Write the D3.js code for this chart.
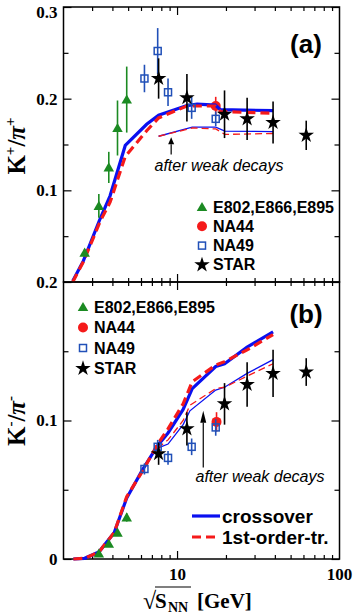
<!DOCTYPE html>
<html>
<head>
<meta charset="utf-8">
<script src="https://cdn.jsdelivr.net/npm/d3@7/dist/d3.min.js"></script>
<style>
  body { margin: 0; background: #fff; }
  svg { display: block; }
</style>
</head>
<body>
<script>
// [sqrt(s_NN) GeV, ratio, error]
const kpE802 = [[2.7, 0.032, 0.004], [3.3, 0.083, 0.013], [3.8, 0.125, 0.017], [4.3, 0.168, 0.030], [4.9, 0.199, 0.036]];
const kpNA44 = [[17.3, 0.192, 0.010]];
const kpNA49 = [[6.3, 0.222, 0.015], [7.6, 0.252, 0.025], [8.8, 0.207, 0.015], [12.3, 0.190, 0.012], [17.3, 0.178, 0.008]];
const kpSTAR = [[7.7, 0.222, 0.022], [11.5, 0.201, 0.026], [19.6, 0.183, 0.026], [27, 0.178, 0.023], [39, 0.174, 0.023], [62.4, 0.160, 0.016]];

const kmE802 = [[3.3, 0.004, 0.001], [3.8, 0.011, 0.001], [4.3, 0.019, 0.002], [4.9, 0.030, 0.003]];
const kmNA44 = [[17.5, 0.099, 0.007]];
const kmNA49 = [[6.3, 0.065, 0.004], [7.6, 0.081, 0.005], [8.8, 0.073, 0.005], [12.3, 0.081, 0.006], [17.3, 0.095, 0.006]];
const kmSTAR = [[7.7, 0.076, 0.008], [11.5, 0.094, 0.012], [19.6, 0.112, 0.015], [27, 0.126, 0.016], [39, 0.134, 0.017], [62.4, 0.135, 0.010]];

// model curves
const kpCross = [[2.28, 0.001], [2.65, 0.023], [3.36, 0.069], [3.87, 0.094], [4.8, 0.149], [6.5, 0.172], [7.7, 0.182], [11.5, 0.1925], [13.3, 0.194], [17.2, 0.193], [18.5, 0.188], [39, 0.187]];
const kpFirst = [[2.28, 0.0], [2.65, 0.022], [3.36, 0.066], [3.87, 0.087], [4.8, 0.137], [6.5, 0.165], [7.7, 0.179], [11.5, 0.192], [13.3, 0.192], [17.2, 0.192], [18.5, 0.186], [39, 0.184]];
const kpCrossWeak = [[7.7, 0.159], [12.4, 0.169], [17.3, 0.169], [19.7, 0.1646], [39, 0.164]];
const kpFirstWeak = [[7.7, 0.159], [12.4, 0.168], [17.3, 0.167], [19.7, 0.161], [39, 0.162]];

const kmCross = [[2.3, 0], [2.7, 0.0005], [3.3, 0.005], [4.1, 0.019], [4.9, 0.044], [6.1, 0.064], [7.6, 0.082], [8.8, 0.091], [10.9, 0.108], [12.4, 0.123], [17.3, 0.139], [19.6, 0.141], [27, 0.153], [39, 0.164]];
const kmFirst = [[2.3, 0], [2.7, 0.0005], [3.3, 0.005], [4.1, 0.019], [4.9, 0.045], [6.1, 0.063], [7.6, 0.083], [8.8, 0.094], [10.9, 0.112], [12.4, 0.128], [17.3, 0.140], [19.6, 0.1425], [27, 0.151], [39, 0.162]];
const kmCrossWeak = [[7.6, 0.080], [8.8, 0.083], [10.9, 0.097], [12.0, 0.107], [17.3, 0.122], [19.6, 0.124], [27, 0.134], [39, 0.144]];
const kmFirstWeak = [[7.6, 0.080], [8.8, 0.086], [10.9, 0.100], [12.0, 0.111], [17.3, 0.123], [19.6, 0.124], [27, 0.132], [39, 0.141]];

const xMajor = [10, 100];
const xMinor = [3, 4, 5, 6, 7, 8, 9, 20, 30, 40, 50, 60, 70, 80, 90];
const legendNames = ['E802,E866,E895', 'NA44', 'NA49', 'STAR'];

const width = 354, height = 614;
const blue = '#0a10f0', red = '#f51a1a', green = '#1b8a22', sqBlue = '#2150b8';
const serif = '"Liberation Serif", "DejaVu Serif", serif';
const sans = '"Liberation Sans", Arial, sans-serif';

const svg = d3.select('body').append('svg')
  .attr('width', width)
  .attr('height', height);

const x = d3.scaleLog().domain([2, 100]).range([63.5, 339.5]);

const panels = [
  { y: d3.scaleLinear().domain([0, 0.3]).range([282, 7]), major: [0.1, 0.2, 0.3], minor: [0.05, 0.15, 0.25],
    e802: kpE802, na44: kpNA44, na49: kpNA49, star: kpSTAR,
    lines: [kpCross, kpFirst, kpCrossWeak, kpFirstWeak], xLabels: false },
  { y: d3.scaleLinear().domain([0, 0.2]).range([559, 282]), major: [0, 0.1, 0.2], minor: [0.05, 0.15],
    e802: kmE802, na44: kmNA44, na49: kmNA49, star: kmSTAR,
    lines: [kmCross, kmFirst, kmCrossWeak, kmFirstWeak], xLabels: true }
];

const fmt = v => v === 0 ? '0' : d3.format('.1f')(v);

const styleAxis = g => {
  g.select('.domain').remove();
  g.selectAll('line').attr('stroke', '#000').attr('stroke-width', 1.2);
  g.selectAll('text').attr('font-family', serif).attr('font-weight', 'bold').attr('font-size', 17).attr('fill', '#000');
};

const drawMarker = (g, kind, cx, cy) => {
  if (kind === 'tri') {
    g.append('path').attr('d', d3.symbol(d3.symbolTriangle, 48)())
      .attr('transform', `translate(${cx},${cy + 1})`).attr('fill', green);
  } else if (kind === 'circ') {
    g.append('circle').attr('cx', cx).attr('cy', cy).attr('r', 5).attr('fill', red);
  } else if (kind === 'sq') {
    g.append('rect').attr('x', cx - 3.5).attr('y', cy - 3.5).attr('width', 7).attr('height', 7)
      .attr('fill', 'none').attr('stroke', sqBlue).attr('stroke-width', 1.5);
  } else {
    g.append('path').attr('d', d3.symbol(d3.symbolStar, 75)())
      .attr('transform', `translate(${cx},${cy})`).attr('fill', '#000');
  }
};

const drawSeries = (g, y, data, kind, color) => {
  g.selectAll(null).data(data).enter().append('line')
    .attr('x1', d => x(d[0])).attr('x2', d => x(d[0]))
    .attr('y1', d => y(d[1] - d[2])).attr('y2', d => y(d[1] + d[2]))
    .attr('stroke', color).attr('stroke-width', 1.6);
  data.forEach(d => drawMarker(g, kind, x(d[0]), y(d[1])));
};

panels.forEach(p => {
  const y = p.y;
  const [bottom, top] = y.range();
  const g = svg.append('g');

  // inward ticks on all four sides
  g.append('g').attr('transform', `translate(0,${bottom})`)
    .call(d3.axisBottom(x).tickValues(xMajor.slice(0, 1)).tickSize(-8).tickPadding(9)
      .tickFormat(p.xLabels ? d3.format('d') : () => ''))
    .call(styleAxis);
  g.append('g').attr('transform', `translate(0,${bottom})`)
    .call(d3.axisBottom(x).tickValues(xMinor).tickSize(-4).tickFormat(() => '')).call(styleAxis);
  g.append('g').attr('transform', `translate(0,${top})`)
    .call(d3.axisTop(x).tickValues(xMajor.slice(0, 1)).tickSize(-8).tickFormat(() => '')).call(styleAxis);
  g.append('g').attr('transform', `translate(0,${top})`)
    .call(d3.axisTop(x).tickValues(xMinor).tickSize(-4).tickFormat(() => '')).call(styleAxis);
  if (p.xLabels) {
    g.append('text').attr('x', x(100)).attr('y', bottom + 21).attr('text-anchor', 'middle')
      .attr('font-family', serif).attr('font-weight', 'bold').attr('font-size', 17).text('100');
  }

  g.append('g').attr('transform', `translate(${x.range()[0]},0)`)
    .call(d3.axisLeft(y).tickValues(p.major).tickSize(-8).tickPadding(6).tickFormat(fmt)).call(styleAxis)
    .selectAll('text').filter(d => d === 0.3).attr('dy', '0.6em');
  g.append('g').attr('transform', `translate(${x.range()[0]},0)`)
    .call(d3.axisLeft(y).tickValues(p.minor).tickSize(-5).tickFormat(() => '')).call(styleAxis);
  g.append('g').attr('transform', `translate(${x.range()[1]},0)`)
    .call(d3.axisRight(y).tickValues(p.major).tickSize(-8).tickFormat(() => '')).call(styleAxis);
  g.append('g').attr('transform', `translate(${x.range()[1]},0)`)
    .call(d3.axisRight(y).tickValues(p.minor).tickSize(-5).tickFormat(() => '')).call(styleAxis);

  g.append('rect').attr('x', x.range()[0]).attr('y', top)
    .attr('width', x.range()[1] - x.range()[0]).attr('height', bottom - top)
    .attr('fill', 'none').attr('stroke', '#000').attr('stroke-width', 1.5);

  drawSeries(g, y, p.na44, 'circ', red);

  const line = d3.line().x(d => x(d[0])).y(d => y(d[1]));
  const styles = [
    { c: blue, w: 3.2, dash: null },
    { c: red, w: 3.2, dash: '9,5' },
    { c: blue, w: 1.3, dash: null },
    { c: red, w: 1.3, dash: '7,4' }
  ];
  p.lines.forEach((l, i) => {
    g.append('path').datum(l).attr('d', line)
      .attr('fill', 'none').attr('stroke', styles[i].c).attr('stroke-width', styles[i].w)
      .attr('stroke-dasharray', styles[i].dash);
  });

  drawSeries(g, y, p.e802, 'tri', green);
  drawSeries(g, y, p.na49, 'sq', sqBlue);
  drawSeries(g, y, p.star, 'star', '#000');
});

// legends
const drawLegend = (lx, ly, step) => {
  const kinds = ['tri', 'circ', 'sq', 'star'];
  legendNames.forEach((name, i) => {
    drawMarker(svg, kinds[i], lx, ly + i * step);
    svg.append('text').attr('x', lx + 11).attr('y', ly + i * step + 5.5)
      .attr('font-family', sans).attr('font-weight', 'bold').attr('font-size', 16).text(name);
  });
};
drawLegend(202, 207, 19.3);
drawLegend(83, 307, 20.5);

// line legend
[['crossover', blue, null, 516], ['1st-order-tr.', red, '9,5', 537]].forEach(([t, c, dash, ly]) => {
  svg.append('line').attr('x1', 192).attr('x2', 220).attr('y1', ly).attr('y2', ly)
    .attr('stroke', c).attr('stroke-width', 3.2).attr('stroke-dasharray', dash);
  svg.append('text').attr('x', 222).attr('y', ly + 7)
    .attr('font-family', sans).attr('font-weight', 'bold').attr('font-size', 19).text(t);
});

// panel tags
[['(a)', 53], ['(b)', 323]].forEach(([t, ty]) => {
  svg.append('text').attr('x', 306).attr('y', ty).attr('text-anchor', 'middle')
    .attr('font-family', sans).attr('font-weight', 'bold').attr('font-size', 26).text(t);
});

// after weak decays annotations
const arrow = (ax, y0, y1, head) => {
  svg.append('line').attr('x1', ax).attr('x2', ax).attr('y1', y0).attr('y2', y1 + head)
    .attr('stroke', '#000').attr('stroke-width', 1.2);
  svg.append('path').attr('d', `M${ax},${y1} L${ax - 3},${y1 + head} L${ax + 3},${y1 + head} Z`).attr('fill', '#000');
};
arrow(x(9.2), panels[0].y(0.139), panels[0].y(0.158), 7);
svg.append('text').attr('x', 219).attr('y', 171).attr('text-anchor', 'middle')
  .attr('font-family', sans).attr('font-style', 'italic').attr('font-size', 16).text('after weak decays');
arrow(x(14.5), panels[1].y(0.066), panels[1].y(0.107), 12);
svg.append('text').attr('x', 260).attr('y', 482).attr('text-anchor', 'middle')
  .attr('font-family', sans).attr('font-style', 'italic').attr('font-size', 16).text('after weak decays');

// y labels
const yLabel = (cy, sign) => {
  const t = svg.append('text').attr('transform', `translate(25,${cy}) rotate(-90)`)
    .attr('text-anchor', 'middle').attr('font-family', serif).attr('font-weight', 'bold').attr('font-size', 25);
  t.append('tspan').text('K');
  t.append('tspan').attr('font-size', 15).attr('dy', -10).text(sign);
  t.append('tspan').attr('dy', 10).text('/');
  t.append('tspan').attr('font-style', 'italic').text('π');
  t.append('tspan').attr('font-size', 15).attr('dy', -10).text(sign);
};
yLabel(146, '+');
yLabel(421, '-');

// x label
const xl = svg.append('g').attr('font-family', serif).attr('font-weight', 'bold');
xl.append('text').attr('x', 143).attr('y', 609).attr('font-weight', 'normal').attr('font-size', 24).text('√');
xl.append('line').attr('x1', 155).attr('x2', 191).attr('y1', 587).attr('y2', 587).attr('stroke', '#000').attr('stroke-width', 1.2);
xl.append('text').attr('x', 155).attr('y', 608).attr('font-size', 21).text('S');
xl.append('text').attr('x', 168).attr('y', 612).attr('font-size', 14).text('NN');
xl.append('text').attr('x', 197).attr('y', 608).attr('font-size', 21).text('[GeV]');
</script>
</body>
</html>
